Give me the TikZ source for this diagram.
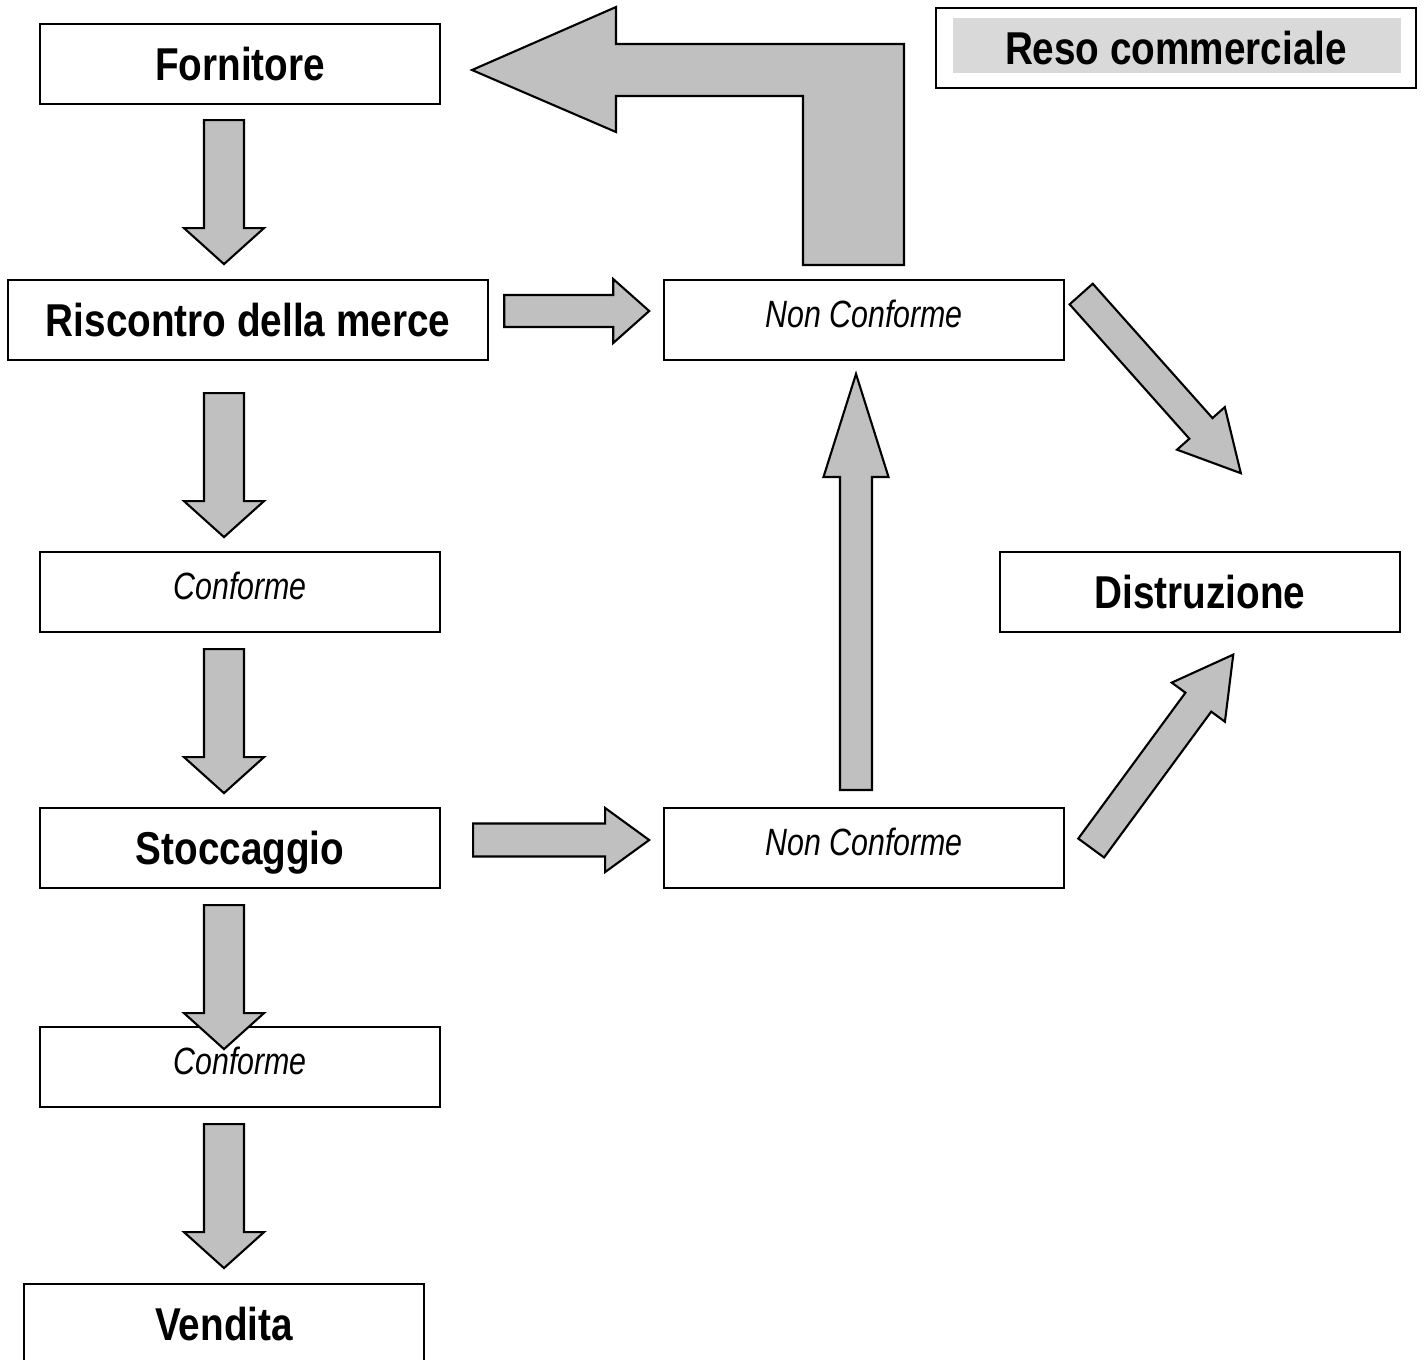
\documentclass[tikz,border=0pt]{standalone}
\usepackage{fontspec}
\setmainfont{Liberation Sans}
\usetikzlibrary{calc}
\definecolor{arrowgray}{HTML}{C0C0C0}
\definecolor{titlegray}{HTML}{D9D9D9}
\newcommand{\boldtext}[1]{\scalebox{0.84}[1]{\fontsize{13.1pt}{15pt}\selectfont\bfseries #1}}
\newcommand{\italtext}[1]{\scalebox{0.8}[1]{\fontsize{10.8pt}{13pt}\selectfont\itshape #1}}
\tikzset{
    boldbox/.style={draw=black, line width=0.6pt, inner sep=0pt, minimum width=4cm, minimum height=0.8cm, text height=0.33cm, text depth=0cm},
    italbox/.style={boldbox, text height=0.3cm, text depth=0.16cm},
    fatarrow/.style={fill=arrowgray, draw=black, line width=0.6pt, line join=miter}
}
% tail, angle, length, head length, shaft width, head width
\newcommand{\drawfatarrow}[6]{
    \begin{scope}[shift={(#1)}]
        \begin{scope}[rotate=#2]
            \filldraw [fatarrow] (0,{-#5/2}) -- ({#3-#4},{-#5/2}) -- ({#3-#4},{-#6/2}) -- (#3,0)
                -- ({#3-#4},{#6/2}) -- ({#3-#4},{#5/2}) -- (0,{#5/2}) -- cycle;
        \end{scope}
    \end{scope}
}

\begin{document}
\begin{tikzpicture}[x=0.01cm, y=-0.01cm]
    \useasboundingbox (0,0) rectangle (1425,1359);
    \clip (0,0) rectangle (1425,1359);
    % left column
    \node [boldbox] (forn) at (240, 64) {\boldtext{Fornitore}};
    \node [boldbox, minimum width=4.8cm] (risc) at (248, 320) {\boldtext{Riscontro della merce}};
    \node [italbox] (conf1) at (240, 592) {\italtext{Conforme}};
    \node [boldbox] (stocc) at (240, 848) {\boldtext{Stoccaggio}};
    \node [italbox] (conf2) at (240, 1067) {\italtext{Conforme}};
    \node [boldbox] (vend) at (224, 1324) {\boldtext{Vendita}};
    % right part
    \node [italbox] (nctop) at (864, 320) {\italtext{Non Conforme}};
    \node [italbox] (ncbot) at (864, 848) {\italtext{Non Conforme}};
    \node [boldbox] (distr) at (1200, 592) {\boldtext{Distruzione}};
    \fill [titlegray] (953, 18) rectangle (1401, 73);
    \node [boldbox, minimum width=4.8cm] (reso) at (1176, 48) {\boldtext{Reso commerciale}};
    % down arrows
    \drawfatarrow{$(forn.south)+(-16,15)$}{-90}{144}{36}{40}{80}
    \drawfatarrow{$(risc.south)+(-24,32)$}{-90}{144}{36}{40}{80}
    \drawfatarrow{$(conf1.south)+(-16,16)$}{-90}{144}{36}{40}{80}
    \drawfatarrow{$(stocc.south)+(-16,16)$}{-90}{144}{36}{40}{80}
    \drawfatarrow{$(conf2.south)+(-16,16)$}{-90}{144}{36}{40}{80}
    % to non conforme
    \drawfatarrow{$(risc.east)+(15,-9)$}{0}{145}{36}{32}{64}
    \drawfatarrow{$(stocc.east)+(32,-8)$}{0}{176}{44}{33}{64}
    \drawfatarrow{$(ncbot.north)+(-8,-17)$}{90}{416}{103}{32}{65}
    % to distruzione
    \drawfatarrow{$(nctop.east)+(16,-26)$}{-48.3}{240}{60}{31}{64}
    \drawfatarrow{$(ncbot.east)+(26,0)$}{53.7}{240}{59}{32}{66}
    % back to fornitore
    \filldraw [fatarrow] (472,70) -- (616,7) -- (616,44) -- (904,44) -- (904,265)
        -- (803,265) -- (803,96) -- (616,96) -- (616,132) -- cycle;
\end{tikzpicture}
\end{document}
